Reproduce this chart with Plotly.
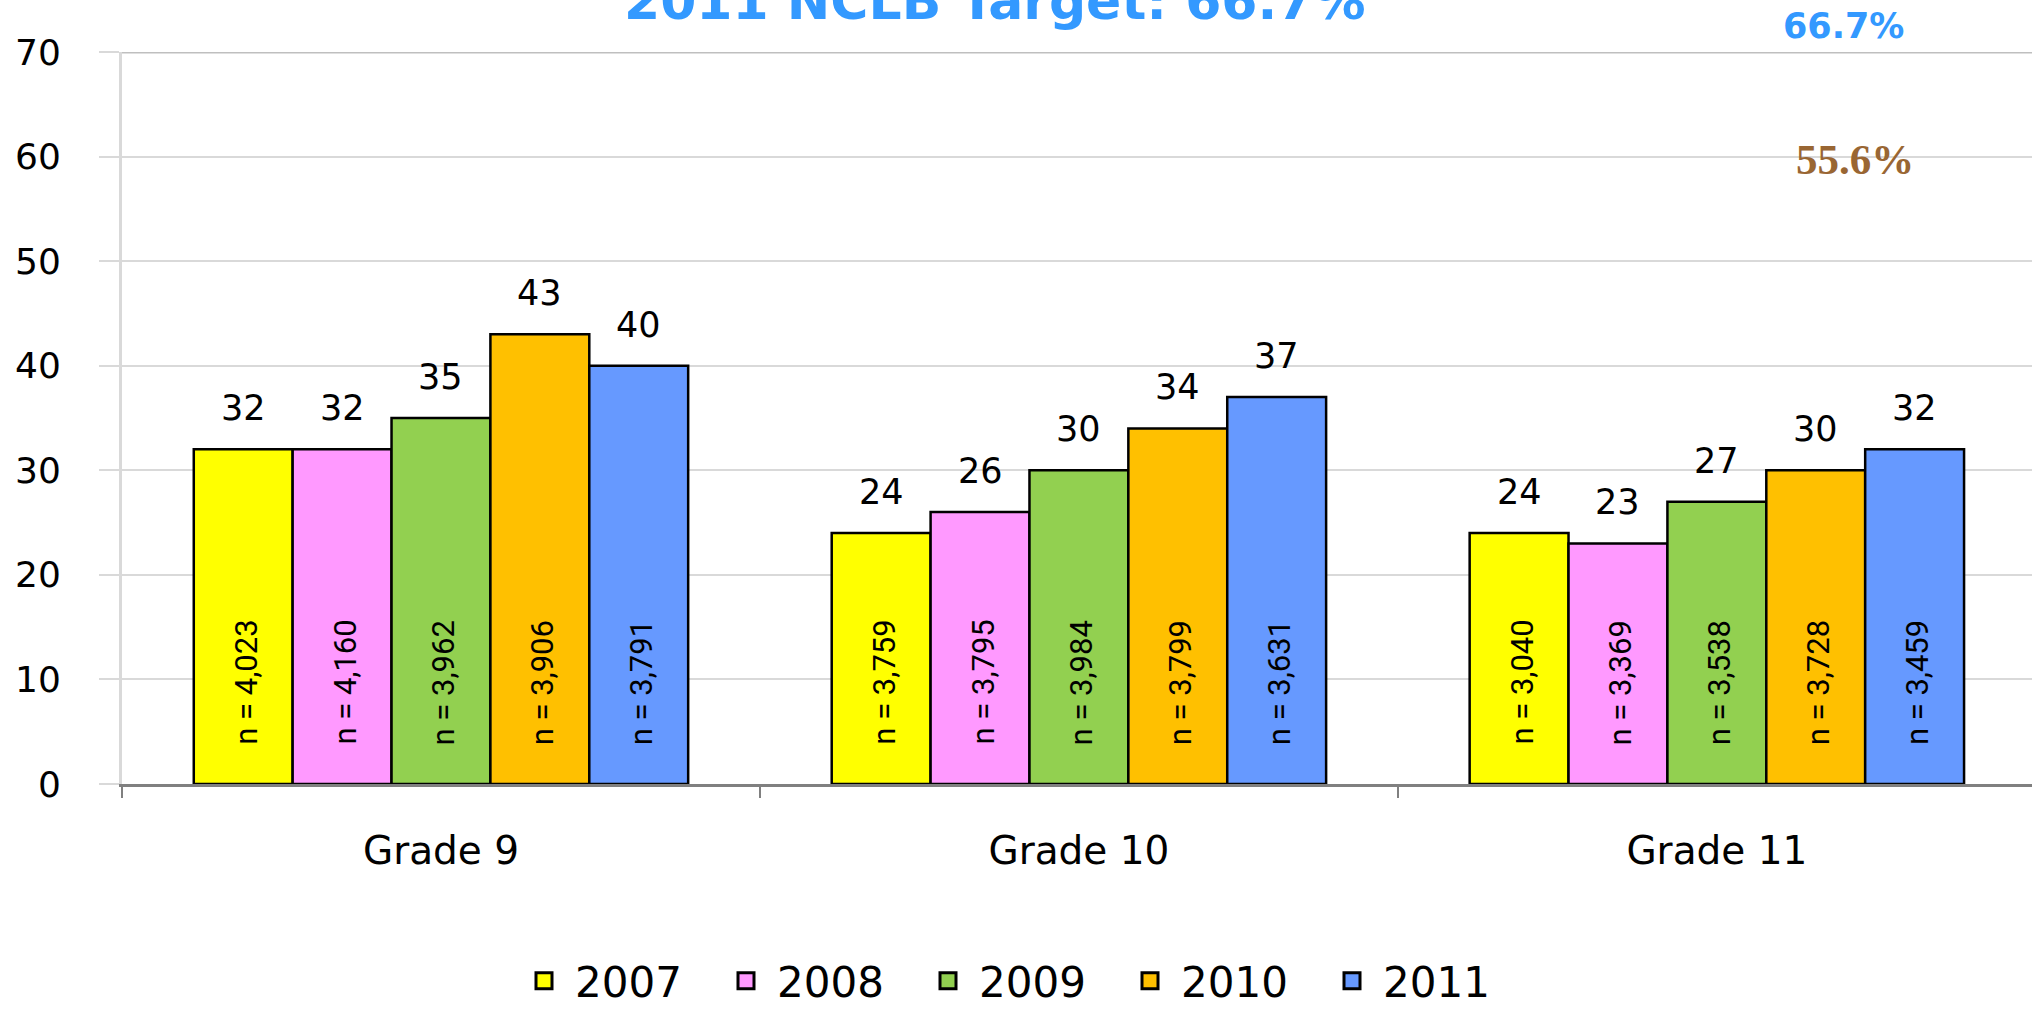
import plotly.graph_objects as go

categories = ["Grade 9", "Grade 10", "Grade 11"]
years = ["2007", "2008", "2009", "2010", "2011"]
colors = ["#FFFF00", "#FF99FF", "#92D050", "#FFC000", "#6699FF"]

pct_2007 = [32, 24, 24]
pct_2008 = [32, 26, 23]
pct_2009 = [35, 30, 27]
pct_2010 = [43, 34, 30]
pct_2011 = [40, 37, 32]

n_2007 = ["4,023", "3,759", "3,040"]
n_2008 = ["4,160", "3,795", "3,369"]
n_2009 = ["3,962", "3,984", "3,538"]
n_2010 = ["3,906", "3,799", "3,728"]
n_2011 = ["3,791", "3,631", "3,459"]

title_text = "2011 NCLB Target: 66.7%"
target_labels = ["66.7%", "55.6%"]

series_vals = [pct_2007, pct_2008, pct_2009, pct_2010, pct_2011]
series_n = [n_2007, n_2008, n_2009, n_2010, n_2011]

W, H = 2032, 1009
ML, MR, MT, MB = 122, 0, 52, 225
XR = [-0.5, 2.494]
BARGAP = 0.225

fig = go.Figure()
for yr, col, vals in zip(years, colors, series_vals):
    fig.add_trace(go.Bar(
        x=categories, y=vals, name=yr, showlegend=False, legendgroup=yr,
        marker=dict(color=col, line=dict(color="#000000", width=2.5)),
    ))
# legend entries with larger swatches
for yr, col in zip(years, colors):
    fig.add_trace(go.Scatter(
        x=[None], y=[None], mode="markers", name=yr, legendgroup=yr, hoverinfo="skip",
        marker=dict(symbol="square", size=16, color=col, line=dict(color="#000000", width=3)),
    ))

plot_w = W - ML - MR
plot_h = H - MT - MB
cat_w = plot_w / (XR[1] - XR[0])
bar_w = cat_w * (1 - BARGAP) / len(years)

annotations = []
for i, (vals, ns) in enumerate(zip(series_vals, series_n)):
    xs = (i - (len(years) - 1) / 2) * bar_w
    for c, v, n in zip(categories, vals, ns):
        annotations.append(dict(
            x=c, y=v, xref="x", yref="y", text=str(v), showarrow=False,
            xshift=xs, yshift=41, yanchor="middle",
            font=dict(family="DejaVu Sans", size=35, color="#000000"),
        ))
        annotations.append(dict(
            x=c, y=0, xref="x", yref="y", text="n = " + n, showarrow=False,
            xshift=xs + 3, yshift=37, yanchor="bottom", textangle=-90,
            font=dict(family="Roboto", size=31, color="#000000"),
        ))

annotations.append(dict(
    x=(995 - ML) / plot_w, y=1, xref="paper", yref="paper", text="<b>" + title_text + "</b>",
    showarrow=False, xanchor="center", yanchor="bottom", yshift=19,
    font=dict(family="DejaVu Sans", size=52, color="#3399FF"),
))
annotations.append(dict(
    x=(1843 - ML) / plot_w, y=1, xref="paper", yref="paper", text="<b>" + target_labels[0] + "</b>",
    showarrow=False, xanchor="center", yanchor="middle", yshift=26,
    font=dict(family="DejaVu Sans", size=35, color="#3399FF"),
))
annotations.append(dict(
    x=(1855 - ML) / plot_w, y=(784 - 159) / plot_h, xref="paper", yref="paper",
    text="<b>" + target_labels[1] + "</b>",
    showarrow=False, xanchor="center", yanchor="middle",
    font=dict(family="Liberation Serif", size=43, color="#996633"),
))

fig.update_layout(
    width=W, height=H,
    margin=dict(l=ML, r=MR, t=MT, b=MB, pad=0),
    paper_bgcolor="#FFFFFF", plot_bgcolor="#FFFFFF",
    barmode="group", bargap=BARGAP, bargroupgap=0,
    showlegend=True,
    legend=dict(
        orientation="h", x=(1018 - ML) / plot_w, xanchor="center",
        yref="container", y=1 - 981 / H, yanchor="middle",
        font=dict(family="DejaVu Sans", size=42, color="#000000"),
        itemwidth=52, entrywidth=135, traceorder="normal",
    ),
    annotations=annotations,
    shapes=[dict(type="line", xref="paper", yref="y", x0=0, x1=1, y0=70, y1=70,
                 line=dict(color="#BFBFBF", width=3), layer="below")],
)

fig.update_xaxes(
    range=XR, showline=True, linecolor="#808080", linewidth=3,
    ticks="outside", tickson="boundaries", ticklen=11, tickwidth=2, tickcolor="#808080",
    tickfont=dict(family="DejaVu Sans", size=39, color="#000000"),
    ticklabelstandoff=30, showgrid=False, zeroline=False,
)
fig.update_yaxes(
    range=[0, 70], dtick=10, showline=True, linecolor="#D9D9D9", linewidth=3,
    ticks="outside", ticklen=20, tickwidth=2, tickcolor="#D9D9D9",
    tickfont=dict(family="DejaVu Sans", size=36, color="#000000"),
    ticklabelstandoff=31, showgrid=True, gridcolor="#D9D9D9", gridwidth=2, zeroline=False,
)

fig.write_html(
    "out.html",
    config={"displayModeBar": False},
    post_script="document.body.style.margin='0px';document.body.style.overflow='hidden';",
)
